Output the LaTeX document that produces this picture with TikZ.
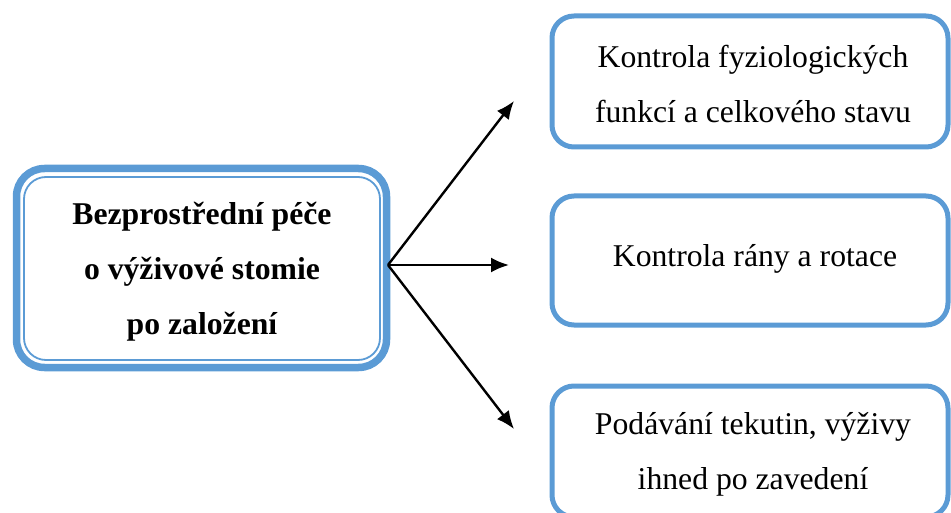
\documentclass[tikz,border=0pt]{standalone}
\usepackage{fontspec}
\setmainfont{Liberation Serif}
\usetikzlibrary{arrows.meta}
\definecolor{boxblue}{HTML}{5B9BD5}
\tikzset{
  mainbox/.style={draw=boxblue, line width=7.5pt, rounded corners=28pt, minimum width=370pt, minimum height=199pt, inner sep=0pt, outer sep=0pt},
  innerbox/.style={draw=boxblue, line width=1.8pt, rounded corners=22pt},
  sidebox/.style={draw=boxblue, line width=5pt, rounded corners=22pt, minimum width=396pt, inner sep=0pt, outer sep=0pt},
  lbl/.style={align=center, font=\fontsize{31.7}{55}\selectfont, inner sep=0pt},
  conn/.style={line width=2.4pt, -{Latex[length=18pt,width=15pt]}}
}
\begin{document}
\begin{tikzpicture}[x=1pt,y=-1pt]
\useasboundingbox (0,0) rectangle (951,513);
\node[mainbox] (main) at (201.5,268) {};
\node[innerbox, minimum width=356pt, minimum height=183pt, inner sep=0pt] (inner) at (202,268.5) {};
\node[lbl, font=\fontsize{31.7}{55}\selectfont\bfseries] (maintext) at (202,272) {Bezprostřední péče\\o výživové stomie\\po založení};
\node[sidebox, minimum height=131pt] (b1) at (750,81.5) {};
\node[sidebox, minimum height=129pt] (b2) at (750,260.5) {};
\node[sidebox, minimum height=131pt] (b3) at (750,451.5) {};
\node[lbl] (t1) at (753,84) {Kontrola fyziologických\\funkcí a celkového stavu};
\node[lbl] (t2) at (755,259) {Kontrola rány a rotace};
\node[lbl] (t3) at (753,454) {Podávání tekutin, výživy\\ihned po zavedení};
\coordinate (o) at ([xshift=1.5pt,yshift=3pt]main.east);
\coordinate (e1) at (514,101);
\coordinate (e2) at (509,265);
\coordinate (e3) at (514,429);
\draw[conn] (o) -- (e1);
\draw[conn] (o) -- (e2);
\draw[conn] (o) -- (e3);
\end{tikzpicture}
\end{document}
